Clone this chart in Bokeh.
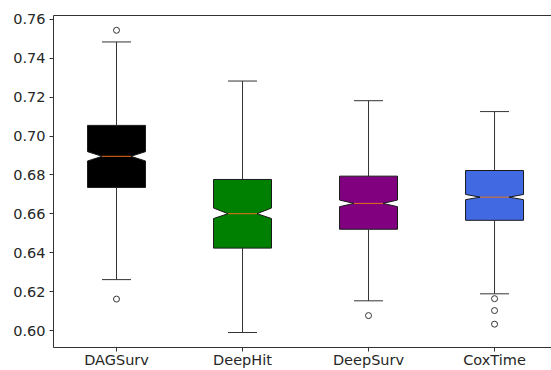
from bokeh.plotting import figure
from bokeh.models import Range1d, FixedTicker, NumeralTickFormatter, LinearAxis
from bokeh.embed import file_html
from bokeh.resources import INLINE

categories = ["DAGSurv", "DeepHit", "DeepSurv", "CoxTime"]
colors = ["#000000", "#008000", "#800080", "#4169e1"]
q1 = [0.6736, 0.6424, 0.6521, 0.6567]
median = [0.6896, 0.6601, 0.6654, 0.6686]
q3 = [0.7055, 0.6777, 0.6794, 0.6823]
whisk_lo = [0.6262, 0.5990, 0.6153, 0.6189]
whisk_hi = [0.7484, 0.7283, 0.7182, 0.7126]
notch_lo = [0.6872, 0.6576, 0.6637, 0.6673]
notch_hi = [0.6920, 0.6630, 0.6671, 0.6700]
outlier_cat = ["DAGSurv", "DAGSurv", "DeepSurv", "CoxTime", "CoxTime", "CoxTime"]
outlier_val = [0.7544, 0.6162, 0.6077, 0.6164, 0.6103, 0.6033]
y_ticks = [0.60, 0.62, 0.64, 0.66, 0.68, 0.70, 0.72, 0.74, 0.76]

W = 0.46
pos = [i + 1 for i in range(len(categories))]

FONT = "DejaVu Sans"
p = figure(width=551, height=370, output_backend="svg", toolbar_location=None,
           x_range=Range1d(0.5, 4.452), y_range=Range1d(0.5913, 0.762),
           min_border_left=53, min_border_top=15, min_border_right=0, min_border_bottom=21)
p.outline_line_color = None
p.grid.visible = False
p.background_fill_color = "white"

xs, ys = [], []
for x, a, nl, m, nh, b in zip(pos, q1, notch_lo, median, notch_hi, q3):
    l, r, cl, cr = x - W / 2, x + W / 2, x - W / 4, x + W / 4
    xs.append([l, l, cl, l, l, r, r, cr, r, r])
    ys.append([a, nl, m, nh, b, b, nh, m, nl, a])
p.patches(xs, ys, fill_color=colors, line_color="#1a1a1a", line_width=1)

# whiskers
p.segment(x0=pos, y0=q3, x1=pos, y1=whisk_hi, line_color="#333333", line_width=1)
p.segment(x0=pos, y0=q1, x1=pos, y1=whisk_lo, line_color="#333333", line_width=1)
# caps
p.segment(x0=[x - W / 4 for x in pos], y0=whisk_hi, x1=[x + W / 4 for x in pos], y1=whisk_hi,
          line_color="#333333", line_width=1)
p.segment(x0=[x - W / 4 for x in pos], y0=whisk_lo, x1=[x + W / 4 for x in pos], y1=whisk_lo,
          line_color="#333333", line_width=1)
# medians
p.segment(x0=[x - W / 4 for x in pos], y0=median, x1=[x + W / 4 for x in pos], y1=median,
          line_color="#e8701a", line_width=1)
# outliers
ox = [categories.index(c) + 1 for c in outlier_cat]
p.scatter(ox, outlier_val, marker="circle", size=6, fill_color=None, line_color="#333333", line_width=1)

p.yaxis.ticker = FixedTicker(ticks=y_ticks)
p.yaxis.formatter = NumeralTickFormatter(format="0.00")
p.xaxis.ticker = FixedTicker(ticks=pos)
p.xaxis.major_label_overrides = {x: c for x, c in zip(pos, categories)}
for ax in (p.xaxis[0], p.yaxis[0]):
    ax.major_label_text_font = FONT
    ax.major_label_text_font_size = "14.5px"
    ax.major_label_text_color = "#262626"
    ax.axis_line_color = "#333333"
    ax.major_tick_line_color = "#333333"
    ax.major_tick_out = 4
    ax.major_tick_in = 0
    ax.minor_tick_out = 0
    ax.minor_tick_in = 0
p.yaxis.major_label_standoff = 4
p.xaxis.major_label_standoff = 0
p.xaxis.major_label_text_line_height = 0.7

top = LinearAxis(ticker=FixedTicker(ticks=[]), major_label_text_font_size="0px",
                 major_tick_out=0, major_tick_in=0, minor_tick_out=0, minor_tick_in=0,
                 major_label_standoff=0, axis_line_color="#333333")
p.add_layout(top, "above")

open("out.html", "w").write(file_html(p, INLINE))
